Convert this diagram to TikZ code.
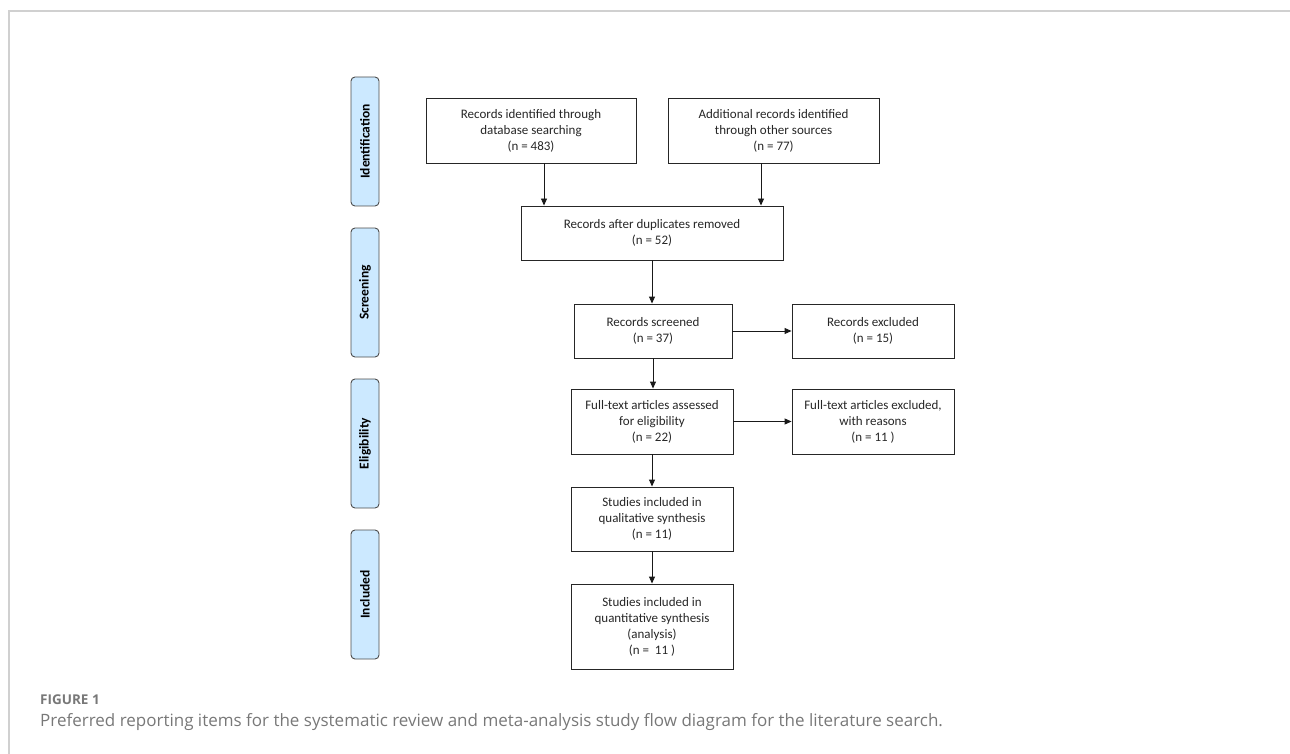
\documentclass[tikz,border=0pt]{standalone}
\usepackage{fontspec}
\setmainfont{Carlito}
\newfontfamily\capfont{Open Sans}
\usetikzlibrary{arrows.meta}
\definecolor{sidefill}{RGB}{204,233,255}
\definecolor{framegray}{RGB}{208,208,208}
\definecolor{capgray}{RGB}{120,120,120}
\tikzset{
  box/.style={draw=black!85, line width=0.9pt, align=center, inner sep=2pt,
    font=\fontsize{13}{16}\selectfont, text=black!85},
  side/.style={draw=black!70, line width=0.9pt, fill=sidefill, rounded corners=4pt,
    minimum width=129pt, minimum height=28pt, rotate=90,
    font=\fontsize{13.5}{15}\selectfont\bfseries},
  arr/.style={-{Triangle[length=7pt,width=6pt]}, line width=0.9pt, draw=black!90}
}
\begin{document}
\begin{tikzpicture}[x=1pt,y=-1pt]
\useasboundingbox (0,0) rectangle (1290,754);
\coordinate (fa) at (9,754);
\coordinate (fb) at (9,11);
\coordinate (fc) at (1290,11);
\draw[framegray, line width=1.5pt] (fa) -- (fb) -- (fc);

% side labels
\node[side] (id) at (365,141.5) {Identification};
\node[side] (sc) at (365,292.5) {Screening};
\node[side] (el) at (365,443.5) {Eligibility};
\node[side] (in) at (365,594.5) {Included};

% boxes
\node[box, minimum width=210pt, minimum height=65pt] (a) at (531,130.5)
  {Records identified through\\database searching\\(n = 483)};
\node[box, minimum width=211pt, minimum height=65pt] (b) at (773.5,130.5)
  {Additional records identified\\through other sources\\(n = 77)};
\node[box, minimum width=262pt, minimum height=54pt] (c) at (652,233)
  {Records after duplicates removed\\(n = 52)};
\node[box, minimum width=158pt, minimum height=54pt] (s) at (653,331)
  {Records screened\\(n = 37)};
\node[box, minimum width=162pt, minimum height=54pt] (sx) at (873,331)
  {Records excluded\\(n = 15)};
\node[box, minimum width=162pt, minimum height=65pt] (f) at (652,421.5)
  {Full-text articles assessed\\for eligibility\\(n = 22)};
\node[box, minimum width=162pt, minimum height=65pt] (fx) at (873,421.5)
  {Full-text articles excluded,\\with reasons\\(n = 11 )};
\node[box, minimum width=162pt, minimum height=64pt] (q) at (652,519)
  {Studies included in\\qualitative synthesis\\(n = 11)};
\node[box, minimum width=162pt, minimum height=85pt] (qq) at (652,626.5)
  {Studies included in\\quantitative synthesis\\(analysis)\\(n =\ \ 11 )};

% connectors
\draw[arr] ([xshift=13pt]a.south) -- ([xshift=13pt]a.south |- c.north);
\draw[arr] ([xshift=-12.5pt]b.south) -- ([xshift=-12.5pt]b.south |- c.north);
\draw[arr] (c.south) -- (c.south |- s.north);
\draw[arr] (s.east) -- (sx.west);
\draw[arr] (s.south) -- (s.south |- f.north);
\draw[arr] (f.east) -- (fx.west);
\draw[arr] (f.south) -- (q.north);
\draw[arr] (q.south) -- (qq.north);

% caption
\node[anchor=base west, inner sep=0pt, text=capgray, font=\capfont\fontsize{13.5}{15}\selectfont\bfseries] (cap1) at (40,704) {FIGURE 1};
\node[anchor=base west, inner sep=0pt, text=capgray, font=\capfont\fontsize{17}{20}\selectfont] (cap2) at (40,726)
  {Preferred reporting items for the systematic review and meta-analysis study flow diagram for the literature search.};
\end{tikzpicture}
\end{document}
